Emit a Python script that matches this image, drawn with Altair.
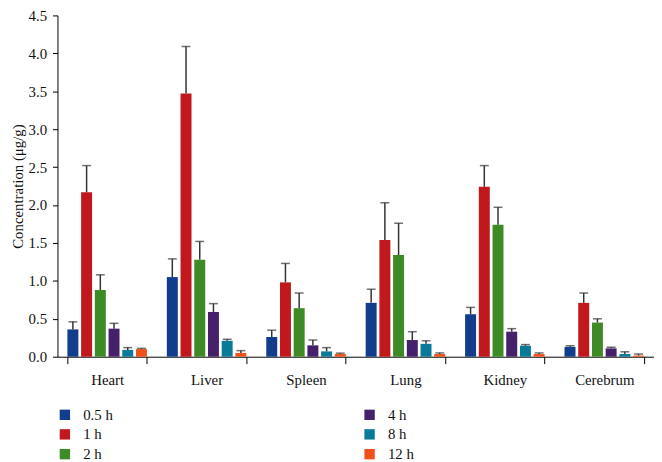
import altair as alt
import pandas as pd

organs = ["Heart", "Liver", "Spleen", "Lung", "Kidney", "Cerebrum"]
times = ["0.5 h", "1 h", "2 h", "4 h", "8 h", "12 h"]
colors = ["#123c8c", "#c0181c", "#3e8a26", "#45206b", "#0b7a9a", "#f0501a"]

# mean values per time point, one entry per organ
mean_05 = [0.36, 1.05, 0.26, 0.71, 0.56, 0.13]
mean_1 = [2.17, 3.47, 0.98, 1.54, 2.24, 0.71]
mean_2 = [0.88, 1.28, 0.64, 1.34, 1.74, 0.45]
mean_4 = [0.37, 0.59, 0.15, 0.22, 0.33, 0.11]
mean_8 = [0.09, 0.21, 0.07, 0.17, 0.145, 0.035]
mean_12 = [0.10, 0.05, 0.035, 0.035, 0.035, 0.015]

# top of the error bar (mean + SD)
err_05 = [0.46, 1.29, 0.35, 0.89, 0.65, 0.145]
err_1 = [2.52, 4.09, 1.23, 2.03, 2.52, 0.84]
err_2 = [1.08, 1.52, 0.84, 1.76, 1.97, 0.50]
err_4 = [0.44, 0.70, 0.22, 0.33, 0.37, 0.125]
err_8 = [0.12, 0.23, 0.12, 0.21, 0.16, 0.065]
err_12 = [0.11, 0.08, 0.047, 0.05, 0.05, 0.035]

y_ticks = [0, 0.5, 1, 1.5, 2, 2.5, 3, 3.5, 4, 4.5]

means = [mean_05, mean_1, mean_2, mean_4, mean_8, mean_12]
errs = [err_05, err_1, err_2, err_4, err_8, err_12]

rows = []
for t, mv, ev in zip(times, means, errs):
    for o, m, e in zip(organs, mv, ev):
        rows.append({"organ": o, "time": t, "value": m, "err": e})
df = pd.DataFrame(rows)

FONT = "Liberation Serif"
TXT = "#111111"

x_enc = alt.X(
    "organ:N",
    sort=organs,
    scale=alt.Scale(paddingInner=0.2, paddingOuter=0.1),
    axis=alt.Axis(
        title=None, labelAngle=0, tickBand="extent", tickSize=7,
        labelPadding=9, labelFontSize=15, labelFont=FONT, labelColor=TXT,
        domainColor="#000", tickColor="#000", domainWidth=1, tickWidth=1,
    ),
)
xo_enc = alt.XOffset("time:N", sort=times, scale=alt.Scale(paddingInner=0.2, paddingOuter=0))

y_axis = alt.Axis(
    title="Concentration (μg/g)", values=y_ticks,
    format=".1f", grid=False, tickSize=5, labelPadding=6,
    labelFontSize=15, labelFont=FONT, labelColor=TXT,
    titleFont=FONT, titleFontSize=15, titleFontWeight="normal", titleColor=TXT,
    titlePadding=3, domainColor="#000", tickColor="#000", labelOverlap=False,
)
y_scale = alt.Scale(domain=[0, 4.5], nice=False)

bars = alt.Chart(df).mark_bar().encode(
    x=x_enc,
    xOffset=xo_enc,
    y=alt.Y("value:Q", scale=y_scale, axis=y_axis),
    color=alt.Color(
        "time:N",
        scale=alt.Scale(domain=times, range=colors),
        legend=alt.Legend(
            title=None, orient="none", legendX=0, legendY=396, columns=2,
            columnPadding=252, rowPadding=4, symbolType="square", symbolSize=110,
            symbolStrokeWidth=0, labelFont=FONT, labelFontSize=15, labelColor=TXT,
            labelOffset=11, padding=0,
        ),
    ),
)

whisk = alt.Chart(df).mark_rule(color="#333", strokeWidth=1.5).encode(
    x=x_enc, xOffset=xo_enc,
    y=alt.Y("value:Q", scale=y_scale, axis=y_axis), y2="err:Q",
)
caps = alt.Chart(df).mark_tick(color="#333", thickness=1.5, size=9).encode(
    x=x_enc, xOffset=xo_enc,
    y=alt.Y("err:Q", scale=y_scale, axis=y_axis),
)

chart = alt.layer(bars, whisk, caps).properties(
    width=603, height=345,
    autosize=alt.AutoSizeParams(type="none"),
    padding={"left": 50, "top": 5, "right": 0, "bottom": 110},
).configure_view(stroke=None)

chart.save("out.html", embed_options={"renderer": "svg", "actions": False})
